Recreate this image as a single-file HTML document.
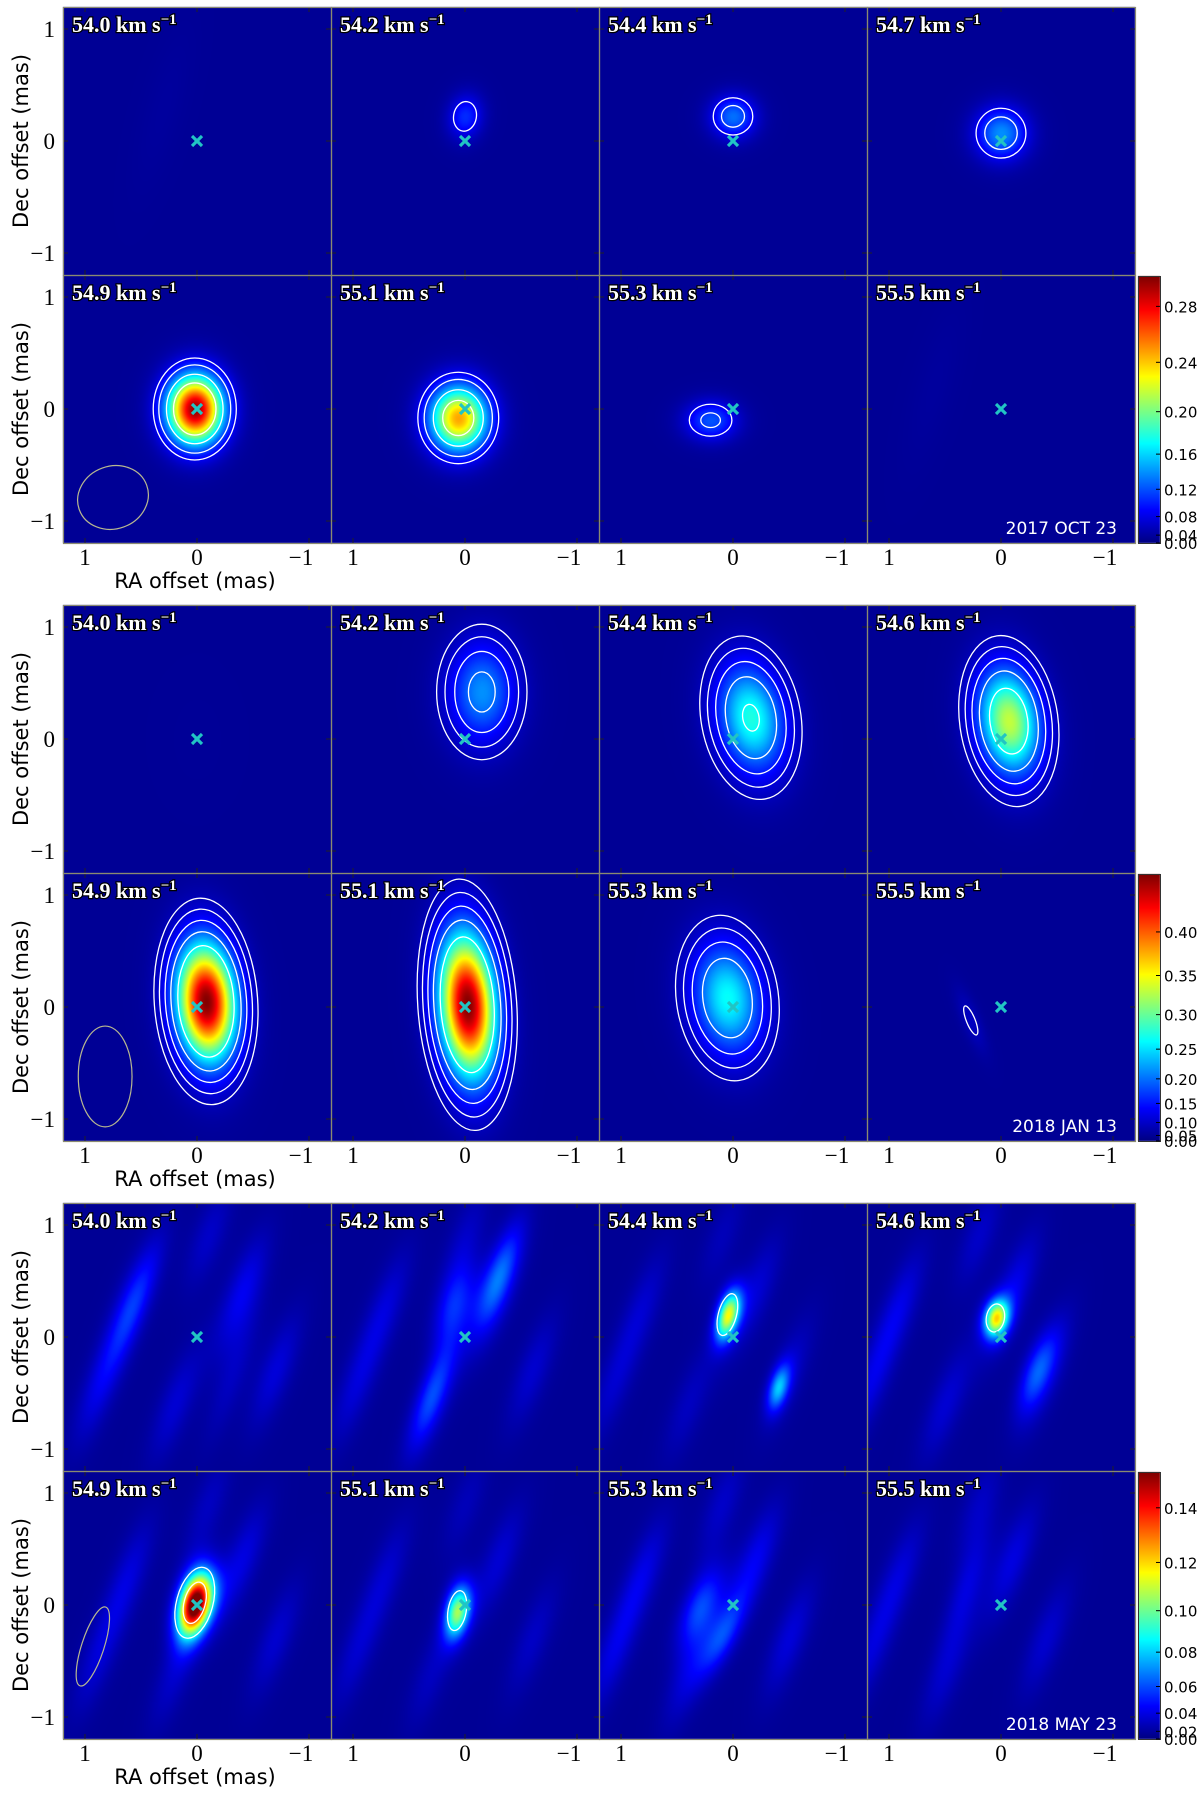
<!DOCTYPE html>
<html><head><meta charset="utf-8">
<style>
html,body{margin:0;padding:0;background:#fff;}
#wrap{position:relative;width:1200px;height:1796px;overflow:hidden;}
canvas,svg{position:absolute;left:0;top:0;}
</style></head>
<body>
<div id="wrap">
<canvas id="cv" width="1200" height="1796"></canvas>
<svg id="sv" width="1200" height="1796" xmlns="http://www.w3.org/2000/svg"></svg>
</div>
<script>
// ---------- data ----------
const velocities1 = ['54.0','54.2','54.4','54.7','54.9','55.1','55.3','55.5'];
const velocities2 = ['54.0','54.2','54.4','54.6','54.9','55.1','55.3','55.5'];
const velocities3 = ['54.0','54.2','54.4','54.6','54.9','55.1','55.3','55.5'];
const dates = ['2017 OCT 23','2018 JAN 13','2018 MAY 23'];
const vmax = [0.30, 0.46, 0.152];
const cbarTicks1 = [0.00,0.04,0.08,0.12,0.16,0.20,0.24,0.28];
const cbarTicks2 = [0.00,0.05,0.10,0.15,0.20,0.25,0.30,0.35,0.40];
const cbarTicks3 = [0.00,0.02,0.04,0.06,0.08,0.10,0.12,0.14];
const contourLevels1 = [0.07,0.10,0.15,0.20];
const contourLevels2 = [0.06,0.09,0.13,0.18,0.25];
const contourLevels3 = [0.06,0.11];
// components: [peak, RA(mas), Dec(mas), sigmaX, sigmaY, rotationDeg]
const comps1 = [
 [[0.015,0.3,0.3,0.15,0.6,15]],
 [[0.095,0.0,0.22,0.13,0.17,10]],
 [[0.12,0.0,0.22,0.17,0.16,0]],
 [[0.13,0.0,0.07,0.2,0.2,0]],
 [[0.29,0.02,0.0,0.22,0.27,0]],
 [[0.24,0.06,-0.08,0.23,0.26,0]],
 [[0.11,0.2,-0.1,0.2,0.15,0]],
 [[0.015,0.6,0.2,0.15,0.6,15]]
];
const comps2 = [
 [[0.008,0,0,0.3,0.5,0]],
 [[0.20,-0.15,0.42,0.26,0.39,0]],
 [[0.26,-0.16,0.19,0.26,0.43,-10]],
 [[0.32,-0.07,0.16,0.24,0.42,-8]],
 [[0.45,-0.08,0.05,0.23,0.46,-4]],
 [[0.45,-0.02,0.02,0.22,0.56,-4]],
 [[0.25,0.05,0.08,0.27,0.44,-8]],
 [[0.07,0.27,-0.12,0.07,0.25,-22]]
];
const stripes3 = [[0.03,0.6,0.3,0.12,0.45,20],[0.035,-0.4,0.4,0.12,0.45,20],[0.028,0.2,-0.6,0.12,0.45,20],[0.03,-0.7,-0.3,0.12,0.45,20],[0.028,0.9,-0.5,0.12,0.45,20],[0.025,-0.1,0.9,0.12,0.4,20]];
const comps3 = [
 [[0.02,0.5,0.4,0.1,0.5,20],[0.02,-0.3,-0.4,0.1,0.5,20]],
 [[0.04,0.1,0.3,0.12,0.3,20],[0.035,-0.3,0.6,0.1,0.4,20],[0.03,0.3,-0.5,0.1,0.4,20]],
 [[0.10,0.05,0.2,0.08,0.19,15],[0.055,-0.4,-0.45,0.07,0.17,15]],
 [[0.09,0.05,0.17,0.09,0.14,10],[0.035,-0.3,-0.3,0.1,0.3,20]],
 [[0.15,0.02,0.02,0.12,0.24,15]],
 [[0.09,0.07,-0.05,0.09,0.2,10]],
 [[0.045,0.3,0.0,0.12,0.3,25],[0.04,0.1,-0.3,0.1,0.3,25]],
 [[0.025,0.3,0.2,0.1,0.4,20]]
];
const beams = [[0.75,-0.79,0.32,0.28,-20],[0.82,-0.62,0.24,0.45,0],[0.93,-0.37,0.1,0.37,18]];

// ---------- layout ----------
const X0=63, PW=268, PH=268, GT=[7,605,1203], PXM=112;
const cv=document.getElementById('cv'), ctx=cv.getContext('2d');
const sv=document.getElementById('sv'), NS='http://www.w3.org/2000/svg';
function mk(tag,attrs,parent){const e=document.createElementNS(NS,tag);for(const k in attrs)e.setAttribute(k,attrs[k]);(parent||sv).appendChild(e);return e;}
function jet(c){c=Math.max(0,Math.min(1,c));const cl=v=>Math.max(0,Math.min(1,v));return [cl(1.5-Math.abs(4*c-3))*255,cl(1.5-Math.abs(4*c-2))*255,cl(1.5-Math.abs(4*c-1))*255];}
const GAM=1.75;
function norm(v,vm){return Math.pow(Math.max(0,v)/vm,GAM);}
function val(comps,dx,dy){let s=0;for(const c of comps){const [p,ra,de,sx,sy,rot]=c;const a=rot*Math.PI/180;const ex=dx-(-ra),ey=dy-(-de);const u=ex*Math.cos(a)+ey*Math.sin(a),w=-ex*Math.sin(a)+ey*Math.cos(a);s+=p*Math.exp(-0.5*(u*u/(sx*sx)+w*w/(sy*sy)));}return s;}

const allVel=[velocities1,velocities2,velocities3];
const allComps=[comps1,comps2,comps3];
const allLevels=[contourLevels1,contourLevels2,contourLevels3];
const allTicks=[cbarTicks1,cbarTicks2,cbarTicks3];

for(let g=0;g<3;g++){
 const gEl=mk('g',{});
 
 
 for(let i=0;i<8;i++){
  const col=i%4,row=Math.floor(i/4);
  const px=X0+col*PW, py=GT[g]+row*PH;
  const cx=px+PW/2, cy=py+PH/2;
  let comps=allComps[g][i];
  if(g===2) comps=comps.concat(stripes3.map(s=>[s[0]*(1-0.1*(i%3)),s[1]+0.1*(i%4),s[2],s[3],s[4],s[5]]));
  const img=ctx.createImageData(PW,PH);
  for(let y=0;y<PH;y++)for(let x=0;x<PW;x++){
   const dx=(x-PW/2)/PXM, dy=(y-PH/2)/PXM;
   const v=0.006*vmax[g]/0.3+val(comps,dx,dy);
   const c=jet(0.02+0.98*norm(v,vmax[g]));
   const k=(y*PW+x)*4;img.data[k]=c[0];img.data[k+1]=c[1];img.data[k+2]=c[2];img.data[k+3]=255;
  }
  ctx.putImageData(img,px,py);
  const pg=mk('g',{},gEl);
  
  
  const main=allComps[g][i][0];
  for(const L of allLevels[g]){
   if(main[0]<=L) continue;
   const r=Math.sqrt(2*Math.log(main[0]/L));
   const e=mk('ellipse',{cx:cx-main[1]*PXM,cy:cy-main[2]*PXM,rx:main[3]*r*PXM,ry:main[4]*r*PXM,fill:'none',stroke:'#fff','stroke-width':1.3,transform:`rotate(${main[5]} ${cx-main[1]*PXM} ${cy-main[2]*PXM})`},pg);
   
   
  }
  for(const t of [1,0,-1]){
   mk('line',{x1:cx-t*PXM,x2:cx-t*PXM,y1:py+PH,y2:py+PH-5,stroke:'#222','stroke-width':1},pg);
   mk('line',{x1:cx-t*PXM,x2:cx-t*PXM,y1:py,y2:py+5,stroke:'#222','stroke-width':1},pg);
   mk('line',{x1:px,x2:px+5,y1:cy-t*PXM,y2:cy-t*PXM,stroke:'#222','stroke-width':1},pg);
   mk('line',{x1:px+PW,x2:px+PW-5,y1:cy-t*PXM,y2:cy-t*PXM,stroke:'#222','stroke-width':1},pg);
  }
  const cr=mk('g',{stroke:'#22c4c4','stroke-width':3.2},pg);
  
  
  mk('line',{x1:cx-5,y1:cy-5,x2:cx+5,y2:cy+5},cr);mk('line',{x1:cx-5,y1:cy+5,x2:cx+5,y2:cy-5},cr);
  mk('rect',{x:px+0.5,y:py+0.5,width:PW,height:PH,fill:'none',stroke:'#8a8a70','stroke-width':1.2},pg);
  const t=mk('text',{x:px+9,y:py+25,'font-family':'Liberation Serif, serif','font-size':22,'font-weight':'bold',fill:'#fff',stroke:'#000','stroke-width':2.4,'paint-order':'stroke'},pg);
  
  
  t.textContent=allVel[g][i]+' km s';
  const sup=mk('tspan',{dy:-8,'font-size':15},t);sup.textContent='−1';
  if(col===0){
   for(const tv of [1,0,-1]){
    const tl=mk('text',{x:px-8,y:cy-tv*PXM+8,'text-anchor':'end','font-family':'Liberation Serif, serif','font-size':23,fill:'#000'},gEl);
    
    
    tl.textContent=tv<0?'−1':String(tv);
   }
  }
  if(row===1){
   for(const tv of [1,0,-1]){
    const tl=mk('text',{x:cx-tv*PXM-(tv<0?8:0),y:py+PH+22,'text-anchor':'middle','font-family':'Liberation Serif, serif','font-size':23,fill:'#000'},gEl);
    
    
    tl.textContent=tv<0?'−1':String(tv);
   }
  }
  if(i===4){
   const b=beams[g];const bx=cx-b[0]*PXM,by=cy-b[1]*PXM;
   const be=mk('ellipse',{cx:bx,cy:by,rx:b[2]*PXM,ry:b[3]*PXM,fill:'none',stroke:'#b8b890','stroke-width':1.2,transform:`rotate(${b[4]} ${bx} ${by})`},pg);
   
   
  }
  if(i===7){
   const dt=mk('text',{x:px+PW-18,y:py+PH-9,'text-anchor':'end','font-family':'DejaVu Sans, sans-serif','font-size':17,fill:'#fff'},pg);
   
   
   dt.textContent=dates[g];
  }
 }
 for(let row=0;row<2;row++){
  const yc=GT[g]+row*PH+PH/2;
  const yt=mk('text',{x:0,y:0,transform:`translate(28 ${yc}) rotate(-90)`,'text-anchor':'middle','font-family':'DejaVu Sans, sans-serif','font-size':21,fill:'#000'},gEl);
  
  
  yt.textContent='Dec offset (mas)';
 }
 const xt=mk('text',{x:X0+PW/2-2,y:GT[g]+2*PH+45,'text-anchor':'middle','font-family':'DejaVu Sans, sans-serif','font-size':21,fill:'#000'},gEl);
 
 
 xt.textContent='RA offset (mas)';
 const cbx=1138,cbw=22,cbt=GT[g]+PH+1,cbh=PH-1;
 for(let y=0;y<cbh;y++){const c=jet(1-y/cbh);ctx.fillStyle=`rgb(${c[0]|0},${c[1]|0},${c[2]|0})`;ctx.fillRect(cbx,cbt+y,cbw,1);}
 const cb=mk('rect',{x:cbx+0.5,y:cbt+0.5,width:cbw,height:cbh,fill:'none',stroke:'#333','stroke-width':1},gEl);
 
 
 for(const tv of allTicks[g]){
  const yy=cbt+cbh-norm(tv,vmax[g])*cbh;
  mk('line',{x1:cbx+cbw,x2:cbx+cbw-4,y1:yy,y2:yy,stroke:'#000'},gEl);
  const tl=mk('text',{x:cbx+cbw+4,y:yy+6,'font-family':'DejaVu Sans, sans-serif','font-size':15,fill:'#000'},gEl);
  
  
  tl.textContent=tv.toFixed(2);
 }
}
</script>
</body></html>
